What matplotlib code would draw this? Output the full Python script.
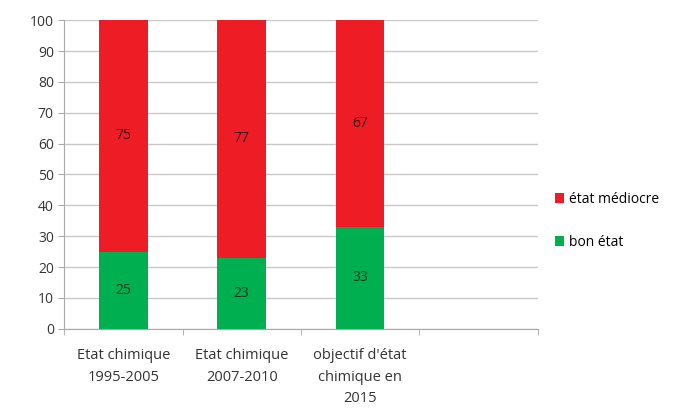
import matplotlib.pyplot as plt
import numpy as np

categories = ["Etat chimique\n1995-2005", "Etat chimique\n2007-2010",
              "objectif d'état\nchimique en\n2015"]
bon_etat = [25, 23, 33]
etat_mediocre = [75, 77, 67]

red = '#ee1c25'
green = '#00b050'

plt.rcParams['font.family'] = ['Open Sans', 'DejaVu Sans']

fig = plt.figure(figsize=(6.9, 4.11), dpi=100)
ax = fig.add_axes([0.093, 0.2, 0.686, 0.751])

x = np.arange(len(categories))
b1 = ax.bar(x, bon_etat, width=0.41, color=green, label='bon état', zorder=3)
b2 = ax.bar(x, etat_mediocre, width=0.41, bottom=bon_etat, color=red,
            label='état médiocre', zorder=3)
ax.bar_label(b1, label_type='center', fontsize=10, color='#1a3a1a')
ax.bar_label(b2, label_type='center', fontsize=10, color='#3a0a0a')

ax.set_xlim(-0.5, 3.5)
ax.set_ylim(0, 100)
ax.set_yticks(range(0, 101, 10))
ax.set_xticks(x)
ax.set_xticklabels(categories, fontsize=10.5, color='#333333', linespacing=1.6)
ax.set_xticks(np.arange(-0.5, 3.6, 1), minor=True)
ax.tick_params(axis='x', which='major', length=0, pad=14)
ax.tick_params(axis='x', which='minor', length=4, color='#aaaaaa')
ax.tick_params(axis='y', length=4, color='#aaaaaa', labelsize=10,
               labelcolor='#333333')
ax.yaxis.grid(True, color='#c8c8c8', linewidth=1, zorder=0)
for s in ['top', 'right']:
    ax.spines[s].set_visible(False)
for s in ['left', 'bottom']:
    ax.spines[s].set_color('#aaaaaa')

handles, labels = ax.get_legend_handles_labels()
ax.legend(handles[::-1], labels[::-1], loc='center left',
          bbox_to_anchor=(1.01, 0.35), frameon=False, fontsize=10,
          handlelength=0.7, handleheight=0.7, handletextpad=0.3,
          labelspacing=2.0)

fig.savefig('out.png')
